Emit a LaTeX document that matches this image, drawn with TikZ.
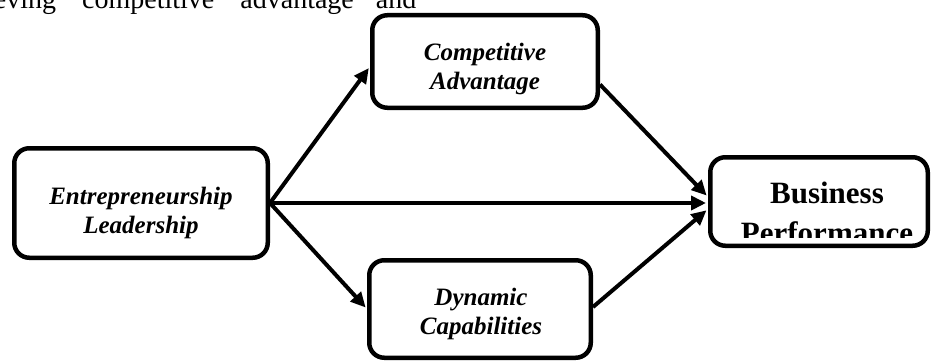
\documentclass[tikz,border=0pt]{standalone}
\usepackage{fontspec}
\setmainfont{Liberation Serif}
\usetikzlibrary{arrows.meta}
\begin{document}
\begin{tikzpicture}[x=1pt,y=-1pt,
  box/.style={draw, line width=4.5pt, rounded corners=15pt, fill=white, inner sep=0pt},
  lbl/.style={align=center, font=\fontsize{25}{29}\selectfont\bfseries\itshape},
  conn/.style={line width=4pt, shorten >=2pt, -{Triangle[length=15pt,width=14pt]}}]
\useasboundingbox (0,0) rectangle (931,361);
% cropped body text line at top
\node[anchor=base west, inner sep=0pt, font=\fontsize{28}{32}\selectfont] (toptext) at (-14,9)
  {ieving\hspace{26pt}competitive\hspace{26pt}advantage\hspace{22pt}and};
% boxes
\node[box, minimum width=253.5pt, minimum height=109.5pt] (E) at (141,203) {};
\node[box, minimum width=225.5pt, minimum height=92.5pt] (C) at (485,61.5) {};
\node[box, minimum width=221.5pt, minimum height=97.5pt] (D) at (480,309) {};
\node[box, minimum width=217.5pt, minimum height=88.5pt] (B) at (819,201.5) {};
% labels
\node[lbl] (Et) at (141,213) {Entrepreneurship\\Leadership};
\node[lbl] (Ct) at (485,69) {Competitive\\Advantage};
\node[lbl] (Dt) at (481,314) {Dynamic\\Capabilities};
\begin{scope}
  \clip (712,159) rectangle (926,237);
  \node[align=center, font=\fontsize{31}{40}\selectfont\bfseries] (Bt) at (827,213) {Business\\Performance};
\end{scope}
% connectors
\draw[conn] (E.east) -- ([yshift=-5pt]C.west);
\draw[conn] (E.east) -- (D.west);
\draw[conn] (E.east) -- (E.east -| B.west);
\draw[conn] ([yshift=-23pt]C.east) -- ([yshift=4.5pt]B.west);
\draw[conn] ([yshift=2pt]D.east) -- ([yshift=-7.5pt]B.west);
\end{tikzpicture}
\end{document}
